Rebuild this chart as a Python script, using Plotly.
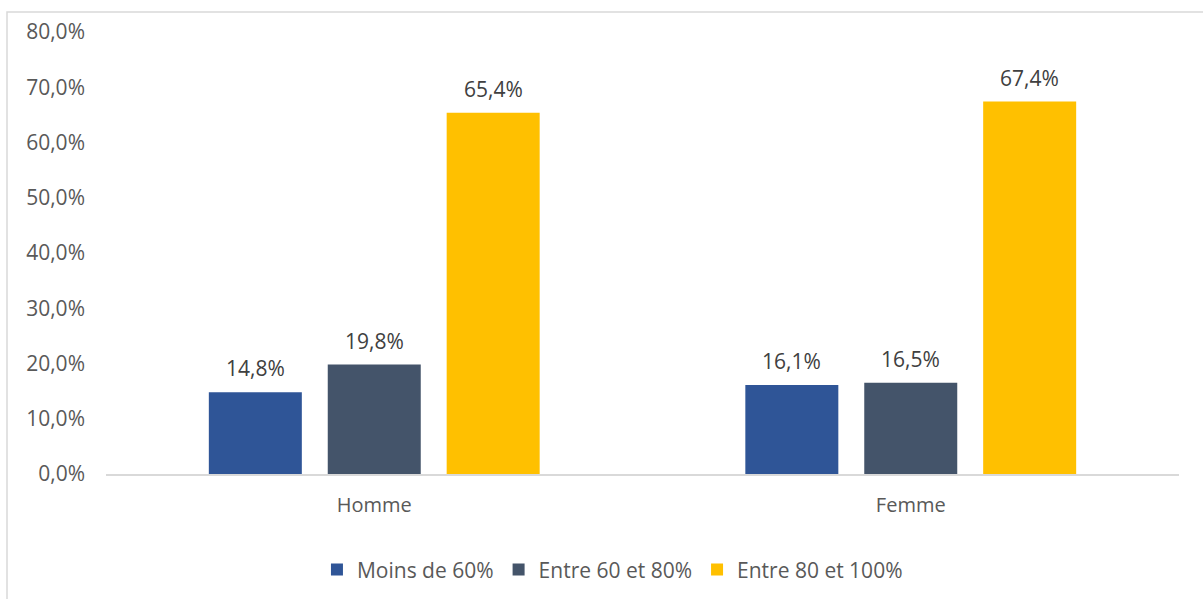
import plotly.graph_objects as go

categories = ["Homme", "Femme"]
series_names = ["Moins de 60%", "Entre 60 et 80%", "Entre 80 et 100%"]
moins_60 = [14.8, 16.1]
entre_60_80 = [19.8, 16.5]
entre_80_100 = [65.4, 67.4]
y_ticks = [0, 10, 20, 30, 40, 50, 60, 70, 80]

colors = ["#2F5597", "#44546A", "#FFC000"]
font_family = "'Open Sans', sans-serif"
fs = 21

W, H = 1203, 599
ml, mr, mt, mb = 106, 24, 32, 125

def pct(v):
    return f"{v:.1f}%".replace(".", ",")

fig = go.Figure()
for name, vals, col in zip(series_names, [moins_60, entre_60_80, entre_80_100], colors):
    fig.add_trace(go.Bar(
        x=categories,
        y=vals,
        name=name,
        marker=dict(color=col, line=dict(width=0)),
        text=[pct(v) for v in vals],
        textposition="none",
        cliponaxis=False,
    ))

fig.update_layout(
    width=W, height=H,
    margin=dict(l=ml, r=mr, t=mt, b=mb, autoexpand=False),
    paper_bgcolor="white",
    plot_bgcolor="white",
    barmode="group",
    bargap=0.335,
    bargroupgap=0.218,
    font=dict(family=font_family, color="#595959", size=fs),
    showlegend=True,
    legend=dict(
        orientation="h",
        x=0.472, xanchor="center",
        y=-0.217, yanchor="middle",
        font=dict(size=fs, color="#595959"),
        itemwidth=30,
        traceorder="normal",
    ),
    xaxis=dict(
        showgrid=False,
        showline=True,
        linecolor="#D9D9D9",
        linewidth=2,
        ticks="",
        tickfont=dict(size=20, color="#595959"),
        ticklabelstandoff=12,
        automargin=False,
    ),
    yaxis=dict(
        range=[0, 80],
        tickvals=y_ticks,
        ticktext=[pct(v) for v in y_ticks],
        showgrid=False,
        zeroline=False,
        showline=False,
        ticks="",
        tickfont=dict(size=fs, color="#595959"),
        ticklabelstandoff=20,
        automargin=False,
    ),
)

# value labels above each bar, offset to their bar within the group
n = len(series_names)
slot = (1 - 0.335) / n
for i, vals in enumerate([moins_60, entre_60_80, entre_80_100]):
    for j, v in enumerate(vals):
        fig.add_annotation(
            x=j + (i - (n - 1) / 2) * slot,
            y=v,
            text=pct(v),
            showarrow=False,
            yanchor="bottom",
            yshift=8,
            font=dict(size=fs, color="#404040", family=font_family),
        )

# outer chart frame
pw, ph = W - ml - mr, H - mt - mb
fig.add_shape(
    type="rect", xref="paper", yref="paper",
    x0=(7 - ml) / pw, x1=(W + 5 - ml) / pw,
    y0=-(H + 5 - mt - ph) / ph, y1=1 + (mt - 12) / ph,
    line=dict(color="#D9D9D9", width=1.5),
    fillcolor="rgba(0,0,0,0)",
    layer="below",
)

fig.write_html("out.html")
